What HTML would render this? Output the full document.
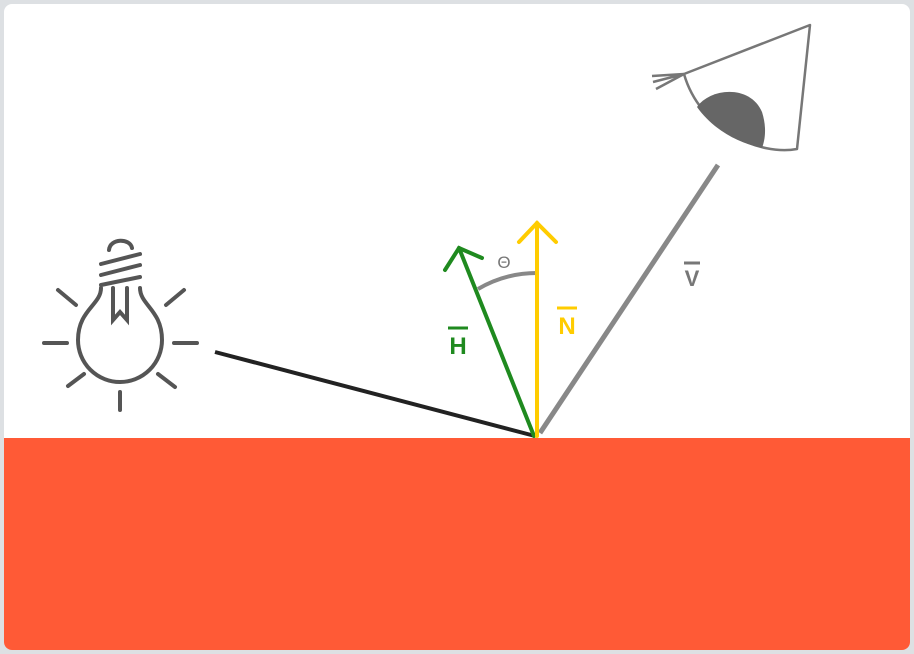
<!DOCTYPE html>
<html><head><meta charset="utf-8"><style>
html,body{margin:0;padding:0;background:#dde0e3;}
svg{display:block;font-family:"Liberation Sans",sans-serif;}
</style></head><body>
<svg width="914" height="654" viewBox="0 0 914 654">
<rect x="0" y="0" width="914" height="654" fill="#dde0e3"/>
<rect x="4" y="4" width="906" height="646" rx="8" fill="#ffffff"/>
<path d="M4 438 H910 V642 a8 8 0 0 1 -8 8 H12 a8 8 0 0 1 -8 -8 Z" fill="#ff5a36"/>

<g stroke="#555" stroke-width="4" fill="none" stroke-linecap="round">
  <path d="M101 288 C101 305 78 310 78 340 A42 42 0 0 0 162 340 C162 310 140 305 140 288"/>
  <path d="M113 288 L113 320 L120 312 L127 320 L127 288"/>
  <path d="M101 285 L140 277 M101 275 L140 265 M101 264 L140 254"/>
  <path d="M109 250 C110 238 130 238 132 248"/>
  <path d="M44 343 H67 M174 343 H197 M120 392 V410 M58 290 L76 305 M166 305 L184 290 M68 386 L84 374 M158 374 L175 387"/>
</g>

<line x1="215" y1="352" x2="535" y2="436" stroke="#222" stroke-width="4"/>
<line x1="540" y1="433" x2="718" y2="165" stroke="#888" stroke-width="5"/>
<path d="M478 289 Q505 273 537 273" stroke="#888" stroke-width="4" fill="none"/>
<text x="504" y="268" font-size="17" fill="#777" text-anchor="middle">Θ</text>

<g stroke="#1f8a1f" stroke-width="4" fill="none" stroke-linecap="round">
  <line x1="534" y1="436" x2="459" y2="248"/>
  <path d="M445 270 L459 248 L482 258"/>
</g>
<g stroke="#ffcc00" stroke-width="4" fill="none" stroke-linecap="round">
  <line x1="537" y1="436" x2="537" y2="223"/>
  <path d="M519 242 L537 223 L556 242"/>
</g>

<g font-weight="bold" font-size="24">
  <text x="458" y="354" fill="#1f8a1f" text-anchor="middle">H</text>
  <line x1="448" y1="328" x2="468" y2="328" stroke="#1f8a1f" stroke-width="3"/>
  <text x="567" y="334" fill="#ffcc00" text-anchor="middle">N</text>
  <line x1="557" y1="308" x2="577" y2="308" stroke="#ffcc00" stroke-width="3"/>
  <text x="692" y="286" fill="#777" font-size="22" text-anchor="middle">V</text>
  <line x1="684" y1="263" x2="700" y2="263" stroke="#777" stroke-width="3"/>
</g>

<g stroke="#777" stroke-width="2.5" fill="none" stroke-linejoin="round">
  <path d="M684 74 L810 25 L797 149 C760 156 700 130 684 74"/>
  <path d="M697 107 C710 88 750 84 762 112 C767 128 765 140 762 148 C735 142 712 128 697 107 Z" fill="#666" stroke="none"/>
  <path d="M684 74 L652 76 M684 74 L653 82 M684 74 L656 89"/>
</g>
</svg>
</body></html>
